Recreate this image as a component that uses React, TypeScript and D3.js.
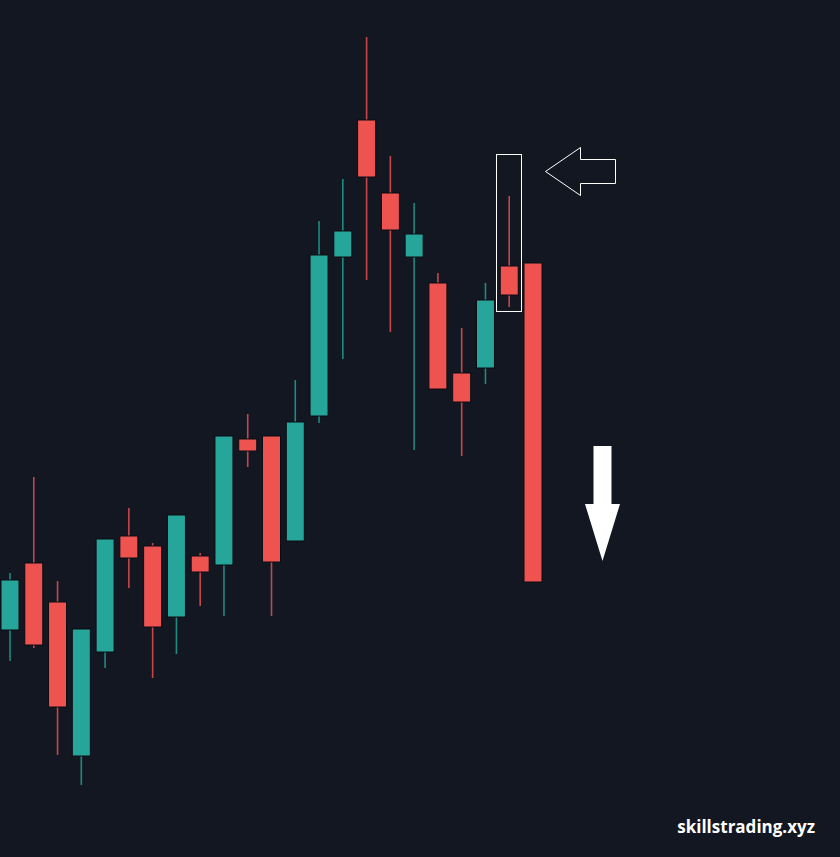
import React from "react";
import * as d3 from "d3";

const W = 840;
const H = 857;

// OHLC data (price units)
const opens = [117.0, 123.7, 119.8, 104.4, 114.8, 126.4, 125.4, 118.3, 124.4, 123.5, 136.1, 136.4, 125.9, 138.4, 154.3, 168.0, 160.7, 154.3, 151.7, 142.7, 143.2, 153.4, 153.7];
const highs = [122.7, 132.3, 121.9, 117.1, 126.1, 129.2, 125.7, 128.5, 124.7, 136.4, 138.6, 136.4, 142.0, 157.9, 162.1, 176.3, 164.4, 159.7, 152.7, 147.2, 151.7, 160.4, 153.7];
const lows = [113.9, 115.2, 104.5, 101.5, 113.2, 121.2, 112.2, 114.6, 119.4, 118.4, 133.3, 118.4, 125.9, 137.7, 144.1, 152.0, 146.8, 135.0, 141.1, 134.4, 141.6, 149.3, 121.8];
const closes = [122.0, 115.5, 109.3, 117.1, 126.1, 124.2, 117.3, 128.5, 122.8, 136.4, 134.9, 123.8, 137.8, 154.5, 156.9, 162.3, 157.0, 156.6, 141.1, 139.8, 150.0, 150.5, 121.8];

// Annotation: highlighted candle index and price box
const highlightIndex = 21;
const highlightTop = 164.5;
const highlightBottom = 148.8;
const watermark = "skillstrading.xyz";

const BG = "#131722";
const UP = "#26a69a";
const DOWN = "#ef5350";
const UP_WICK = "#1f8a80";
const DOWN_WICK = "#c8464a";

const snap = (v: number) => Math.round(v - 0.5) + 0.5;

export default function App() {
  const candles = opens.map((o, i) => ({ i, o, h: highs[i], l: lows[i], c: closes[i] }));
  const x = d3.scaleLinear().domain([0, 22]).range([10, 533]);
  const y = d3.scaleLinear().domain([100, 180]).range([800, 0]);
  const bw = 18;

  const hx = x(highlightIndex);
  const boxX0 = snap(hx - 12.5);
  const boxX1 = snap(hx + 12.5);
  const boxY0 = snap(y(highlightTop));
  const boxY1 = snap(y(highlightBottom));

  // left-pointing outline arrow near box
  const ay = boxY0 + 17;
  const ax = boxX1 + 24;
  const leftArrow = [
    [ax, ay],
    [ax + 35, ay - 24],
    [ax + 35, ay - 12],
    [ax + 70, ay - 12],
    [ax + 70, ay + 12],
    [ax + 35, ay + 12],
    [ax + 35, ay + 24],
  ];

  // down arrow
  const dx = 602.5;
  const downArrow = [
    [dx - 9, 446],
    [dx + 9, 446],
    [dx + 9, 504],
    [dx + 17.5, 504],
    [dx, 561],
    [dx - 17.5, 504],
    [dx - 9, 504],
  ];

  return (
    <svg
      width={W}
      height={H}
      style={{ position: "absolute", left: 0, top: 0, display: "block", background: BG }}
    >
      <rect x={0} y={0} width={W} height={H} fill={BG} />
      {candles.map((d) => {
        const up = d.c >= d.o;
        const top = y(Math.max(d.o, d.c));
        const bot = y(Math.min(d.o, d.c));
        const cx = x(d.i);
        return (
          <g key={d.i}>
            <line
              x1={cx}
              x2={cx}
              y1={y(d.h)}
              y2={y(d.l)}
              stroke={up ? UP_WICK : DOWN_WICK}
              strokeWidth={1.6}
            />
            <rect
              x={cx - bw / 2}
              y={top}
              width={bw}
              height={Math.max(1, bot - top)}
              fill={up ? UP : DOWN}
              stroke="#0b0d13"
              strokeWidth={1}
            />
          </g>
        );
      })}
      <rect
        x={boxX0}
        y={boxY0}
        width={boxX1 - boxX0}
        height={boxY1 - boxY0}
        fill="none"
        stroke="#ffffff"
        strokeWidth={1}
        shapeRendering="crispEdges"
      />
      <polygon
        points={leftArrow.map((p) => p.join(",")).join(" ")}
        fill="none"
        stroke="#ffffff"
        strokeWidth={1}
      />
      <polygon points={downArrow.map((p) => p.join(",")).join(" ")} fill="#ffffff" />
      <text
        x={815}
        y={833}
        textAnchor="end"
        fill="#ffffff"
        fontFamily="'Open Sans', sans-serif"
        fontWeight="bold"
        fontSize={17}
      >
        {watermark}
      </text>
    </svg>
  );
}
